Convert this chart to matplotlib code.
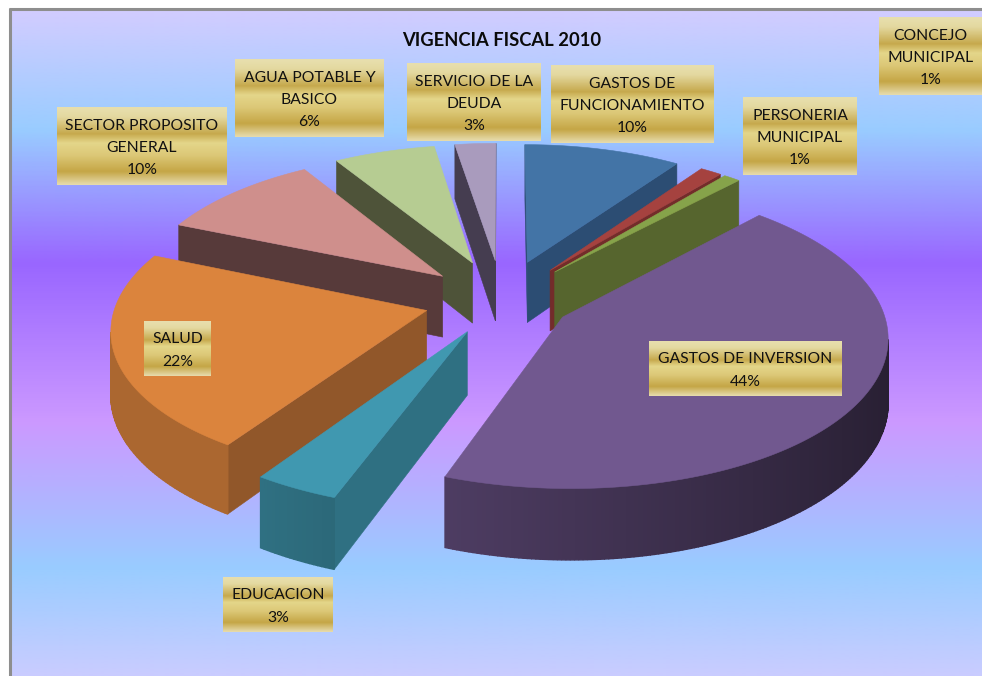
import numpy as np
import matplotlib
matplotlib.use("Agg")
import matplotlib.pyplot as plt
from matplotlib.patches import Polygon
from matplotlib.colors import LinearSegmentedColormap, to_rgb

plt.rcParams['font.family'] = ['Lato', 'DejaVu Sans']

# ---- data
categories = ["GASTOS DE\nFUNCIONAMIENTO", "CONCEJO\nMUNICIPAL", "PERSONERIA\nMUNICIPAL",
              "GASTOS DE INVERSION", "EDUCACION", "SALUD",
              "SECTOR PROPOSITO\nGENERAL", "AGUA POTABLE Y\nBASICO", "SERVICIO DE LA\nDEUDA"]
shares = [9.6, 1.3, 1.0, 43.7, 3.7, 22.1, 9.9, 6.2, 2.5]
percent_labels = ["10%", "1%", "1%", "44%", "3%", "22%", "10%", "6%", "3%"]
title = "VIGENCIA FISCAL 2010"

# ---- styles
top_colors = ["#4374a6", "#a5423f", "#86a34a", "#71588f", "#4098b0", "#db843d", "#cf8f8c", "#b6cc92", "#a99bbd"]
side_colors = ["#2c4d73", "#732c2a", "#56652e", "#3d3050", "#2f7082", "#91572a", "#573a3a", "#4e5339", "#453d50"]
explode = [88, 82, 82, 70, 75, 78, 80, 88, 88]
rim_extra = [0, 0, 0, 0, 9, 0, 0, 0, 0]
boxes = [(551, 65, 714, 143), (879, 17, 982, 95), (743, 97, 857, 175),
         (649, 341, 842, 396), (223, 577, 333, 632), (144, 321, 211, 376),
         (57, 107, 227, 185), (235, 59, 384, 137), (407, 63, 541, 141)]

# ---- projection parameters
CX, CY = 502, 300
RIM, HEIGHT = 388, 62
TILT, PERSP = 0.462, 0.00037


def project(X, Y, z=0.0):
    f = 1 / (1 + PERSP * Y)
    return CX + X * f, CY - Y * TILT * f + z * f


def signed_area(pts):
    x, y = np.array(pts).T
    return 0.5 * np.sum(x * np.roll(y, -1) - np.roll(x, -1) * y)


def darker(c, k):
    return tuple(v * k for v in to_rgb(c))


fig = plt.figure(figsize=(9.82, 6.76), dpi=100, facecolor="white")
ax = fig.add_axes([0, 0, 1, 1])
ax.axis("off")

# background gradient
bg_stops = [(0.0, "#d2ccff"), (0.18, "#99ccff"), (0.38, "#9966ff"), (0.62, "#cc99ff"),
            (0.84, "#99ccff"), (1.0, "#c9ccff")]
bg = LinearSegmentedColormap.from_list("bg", bg_stops)
ax.imshow(np.linspace(0, 1, 400)[:, None], cmap=bg, extent=(10, 982, 676, 9), aspect="auto",
          interpolation="bilinear", zorder=0, vmin=0, vmax=1)
ax.plot([10, 10], [676, 8], color="#8e8e8e", lw=2.2, zorder=1, solid_capstyle="butt")
ax.plot([9, 982], [8.5, 8.5], color="#8e8e8e", lw=2.2, zorder=1, solid_capstyle="butt")

# pie
total = sum(shares)
edges = np.concatenate([[0], np.cumsum(shares)]) / total * 360
mids = (edges[:-1] + edges[1:]) / 2
order = np.argsort(-np.cos(np.radians(mids)))
z = 2
for i in order:
    a0, a1 = edges[i], edges[i + 1]
    m = np.radians(mids[i])
    ax0, ay0 = explode[i] * np.sin(m), explode[i] * np.cos(m)
    radius = RIM + rim_extra[i] - explode[i]
    th = np.radians(np.linspace(a0, a1, max(3, int((a1 - a0) * 1.5) + 1)))
    rx = ax0 + radius * np.sin(th)
    ry = ay0 + radius * np.cos(th)
    apex_t = project(ax0, ay0)
    apex_b = project(ax0, ay0, HEIGHT)
    top = [project(x, y) for x, y in zip(rx, ry)]
    bot = [project(x, y, HEIGHT) for x, y in zip(rx, ry)]
    # radial walls
    for quad in ([top[0], apex_t, apex_b, bot[0]], [apex_t, top[-1], bot[-1], apex_b]):
        if signed_area(quad) > 0:
            ax.add_patch(Polygon(quad, closed=True, fc=side_colors[i], ec=side_colors[i], lw=0.4, zorder=z))
    # outer wall
    for k in range(len(th) - 1):
        quad = [top[k + 1], top[k], bot[k], bot[k + 1]]
        if signed_area(quad) > 0:
            mid_t = (th[k] + th[k + 1]) / 2
            shade = 0.6 - 0.25 * np.sin(mid_t) if i != 5 else 0.78
            col = darker(top_colors[i], shade)
            ax.add_patch(Polygon(quad, closed=True, fc=col, ec=col, lw=1.0, zorder=z))
    # top face
    ax.add_patch(Polygon([apex_t] + top, closed=True, fc=top_colors[i], ec=top_colors[i], lw=0.4, zorder=z + 0.5))
    z += 1

# gold labels
gold = LinearSegmentedColormap.from_list("gold", [(0, "#e8dfae"), (0.12, "#e4d9a0"), (0.34, "#c6a94d"),
                                                   (0.46, "#e4d68a"), (0.62, "#dcc877"), (0.83, "#c5a646"),
                                                   (1, "#e6dbac")])
for name, pct, (x0, y0, x1, y1) in zip(categories, percent_labels, boxes):
    ax.imshow(np.linspace(0, 1, 100)[:, None], cmap=gold, extent=(x0, x1, y1, y0), aspect="auto",
              interpolation="bilinear", zorder=50, vmin=0, vmax=1)
    ax.text((x0 + x1) / 2, (y0 + y1) / 2 + 2, f"{name}\n{pct}", ha="center", va="center",
            fontsize=11.3, color="#111111", linespacing=1.74, zorder=51)

ax.text(502, 41, title, ha="center", va="center", fontsize=13.2, fontweight="bold", color="#0a0a0a", zorder=51)

ax.set_xlim(0, 982)
ax.set_ylim(676, 0)
fig.savefig("out.png", dpi=100)
